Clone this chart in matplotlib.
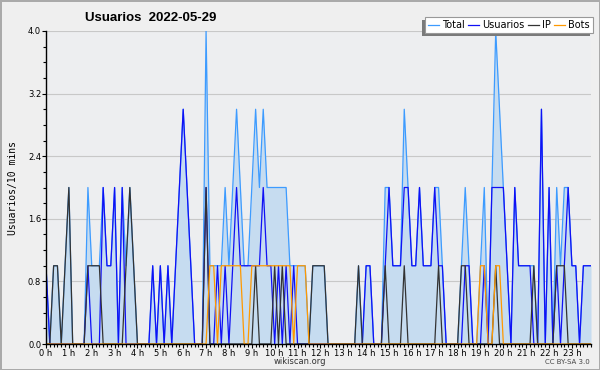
import matplotlib
matplotlib.use("Agg")
import matplotlib.pyplot as plt
import numpy as np
from matplotlib.patches import Rectangle

# activity per 10 minutes, 2022-05-29 (144 slots)
usuarios = [1, 0, 0, 0, 0, 0, 0, 0, 0, 0, 0, 1, 0, 0, 0, 2, 1, 1, 2, 0, 2, 0, 0, 0,
            0, 0, 0, 0, 1, 0, 1, 0, 1, 0, 1, 2, 3, 2, 1, 0, 0, 0, 2, 0, 0, 1, 0, 1,
            0, 1, 2, 1, 1, 1, 1, 1, 1, 2, 1, 1, 0, 1, 0, 1, 0, 1, 0, 0, 0, 0, 0, 0,
            0, 0, 0, 0, 0, 0, 0, 0, 0, 0, 0, 0, 1, 1, 0, 0, 0, 1, 2, 1, 1, 1, 2, 2,
            1, 1, 2, 1, 1, 1, 2, 1, 1, 0, 0, 0, 0, 0, 1, 1, 0, 0, 0, 1, 0, 2, 2, 2,
            2, 1, 0, 2, 1, 1, 1, 1, 0, 0, 3, 0, 2, 0, 1, 0, 1, 2, 1, 1, 0, 1, 1, 1]
ip = [0, 0, 1, 1, 0, 1, 2, 0, 0, 0, 0, 1, 1, 1, 1, 0, 0, 0, 0, 0, 0, 1, 2, 1,
      0, 0, 0, 0, 0, 0, 0, 0, 0, 0, 0, 0, 0, 0, 0, 0, 0, 0, 2, 0, 0, 0, 0, 0,
      0, 0, 0, 0, 0, 0, 0, 1, 0, 0, 0, 0, 1, 0, 1, 0, 0, 0, 0, 0, 0, 0, 1, 1,
      1, 1, 0, 0, 0, 0, 0, 0, 0, 0, 1, 0, 0, 0, 0, 0, 0, 1, 0, 0, 0, 0, 1, 0,
      0, 0, 0, 0, 0, 0, 0, 1, 0, 0, 0, 0, 0, 1, 1, 0, 0, 0, 0, 0, 0, 0, 1, 0,
      0, 0, 0, 0, 0, 0, 0, 0, 1, 0, 0, 0, 0, 0, 1, 1, 1, 0, 0, 0, 0, 0, 0, 0]
bots = [0, 0, 0, 0, 0, 0, 0, 0, 0, 0, 0, 0, 0, 0, 0, 0, 0, 0, 0, 0, 0, 0, 0, 0,
        0, 0, 0, 0, 0, 0, 0, 0, 0, 0, 0, 0, 0, 0, 0, 0, 0, 0, 0, 1, 1, 0, 1, 1,
        1, 1, 1, 1, 0, 0, 1, 1, 1, 1, 1, 1, 1, 1, 1, 1, 1, 0, 1, 1, 1, 0, 0, 0,
        0, 0, 0, 0, 0, 0, 0, 0, 0, 0, 0, 0, 0, 0, 0, 0, 0, 0, 0, 0, 0, 0, 0, 0,
        0, 0, 0, 0, 0, 0, 0, 0, 0, 0, 0, 0, 0, 0, 0, 0, 0, 0, 1, 1, 0, 0, 1, 1,
        0, 0, 0, 0, 0, 0, 0, 0, 0, 0, 0, 0, 0, 0, 0, 0, 0, 0, 0, 0, 0, 0, 0, 0]
total = [1, 0, 1, 1, 0, 1, 2, 0, 0, 0, 0, 2, 1, 1, 1, 2, 1, 1, 2, 0, 2, 1, 2, 1,
         0, 0, 0, 0, 1, 0, 1, 0, 1, 0, 1, 2, 3, 2, 1, 0, 0, 0, 4, 1, 1, 1, 1, 2,
         1, 2, 3, 2, 1, 1, 2, 3, 2, 3, 2, 2, 2, 2, 2, 2, 1, 1, 1, 1, 1, 0, 1, 1,
         1, 1, 0, 0, 0, 0, 0, 0, 0, 0, 1, 0, 1, 1, 0, 0, 0, 2, 2, 1, 1, 1, 3, 2,
         1, 1, 2, 1, 1, 1, 2, 2, 1, 0, 0, 0, 0, 1, 2, 1, 0, 0, 1, 2, 0, 2, 4, 3,
         2, 1, 0, 2, 1, 1, 1, 1, 1, 0, 3, 0, 2, 0, 2, 1, 2, 2, 1, 1, 0, 1, 1, 1]

hours = np.arange(len(total)) / 6.0
hour_labels = ["%d h" % h for h in range(24)]
y_ticks = [0.0, 0.8, 1.6, 2.4, 3.2, 4.0]

fig = plt.figure(figsize=(6, 3.7), dpi=100, facecolor="#efefef",
                 edgecolor="#aaaaaa", linewidth=2)
ax = fig.add_axes([46 / 600, 1 - 344 / 370, 545 / 600, 313 / 370])
ax.set_facecolor("#edeef0")

ax.fill_between(hours, total, 0, color="#c6dcf0", lw=0, zorder=1)
l1, = ax.plot(hours, total, color="#3d9bff", lw=0.9, zorder=2, label="Total")
l2, = ax.plot(hours, usuarios, color="#1010f5", lw=0.9, zorder=3, label="Usuarios")
l3, = ax.plot(hours, ip, color="#333333", lw=0.9, zorder=4, label="IP")
l4, = ax.plot(hours, bots, color="#ff9900", lw=0.9, zorder=5, label="Bots")

ax.set_xlim(0, hours[-1])
ax.set_ylim(0, 4.0)
ax.set_xticks(range(24))
ax.set_xticklabels(hour_labels)
ax.set_xticks(np.arange(0, hours[-1] + 0.01, 1 / 6.0), minor=True)
ax.set_yticks(y_ticks)
ax.set_yticklabels(["%.1f" % v for v in y_ticks])
ax.set_yticks(np.arange(0, 4.01, 0.2), minor=True)
ax.tick_params(axis="both", which="major", labelsize=6, length=3, width=0.8,
               pad=0.5, color="black")
ax.tick_params(axis="both", which="minor", length=2.5, width=0.8)
ax.grid(axis="y", color="#c8c8c8", lw=0.8, zorder=0)
ax.set_axisbelow(True)
for s in ["top", "right"]:
    ax.spines[s].set_visible(False)
for s in ["left", "bottom"]:
    ax.spines[s].set_linewidth(1.0)
    ax.spines[s].set_zorder(6)

ax.set_ylabel("Usuarios/10 mins", family="DejaVu Sans Mono", fontsize=7, labelpad=7)

fig.text(151 / 600, 1 - 18 / 370, "Usuarios  2022-05-29", ha="center", va="center",
         family="Liberation Sans", fontweight="bold", fontsize=9.5)
fig.text(300 / 600, 1 - 362 / 370, "wikiscan.org", ha="center", va="center",
         fontsize=6, color="#333333")
fig.text(590 / 600, 1 - 362 / 370, "CC BY-SA 3.0", ha="right", va="center",
         fontsize=5, color="#444444")

leg = fig.legend([l1, l2, l3, l4], ["Total", "Usuarios", "IP", "Bots"],
                 loc="upper right", bbox_to_anchor=(593 / 600, 1 - 17 / 370),
                 ncol=4, fontsize=7, frameon=True, fancybox=False,
                 edgecolor="#999999", facecolor="white", framealpha=1,
                 handlelength=1.1, handletextpad=0.35, columnspacing=0.35,
                 borderpad=0.3, borderaxespad=0)
leg.set_zorder(5)
leg.get_frame().set_linewidth(0.8)

# drop shadow to the lower left of the legend
fig.canvas.draw()
bb = leg.get_window_extent()
shadow = Rectangle((bb.x0 - 3, bb.y0 - 3), bb.width, bb.height, transform=None,
                   facecolor="#7a7a7a", edgecolor="none", zorder=4)
fig.add_artist(shadow)

fig.savefig("out.png", dpi=100, facecolor=fig.get_facecolor(), edgecolor="#aaaaaa")
